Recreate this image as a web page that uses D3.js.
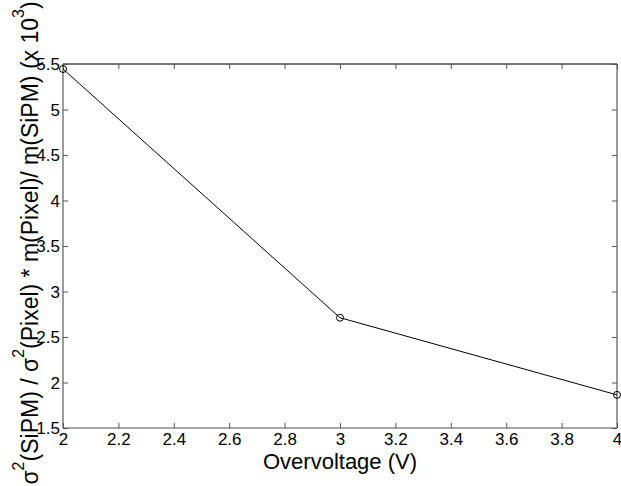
<!DOCTYPE html>
<html>
<head>
<meta charset="utf-8">
<script src="https://cdn.jsdelivr.net/npm/d3@7"></script>
<style>
html,body{margin:0;padding:0;background:#fff;}
svg{display:block;}
text{font-family:"Liberation Sans",Arial,sans-serif;fill:#000;}
</style>
</head>
<body>
<svg id="chart" width="621" height="486"></svg>
<script>
const overvoltage = [2, 3, 4];
const ratioValues = [5.445, 2.712, 1.864];
const xTicks = [2, 2.2, 2.4, 2.6, 2.8, 3, 3.2, 3.4, 3.6, 3.8, 4];
const yTicks = [1.5, 2, 2.5, 3, 3.5, 4, 4.5, 5, 5.5];
const xLabel = "Overvoltage (V)";

const svg = d3.select("#chart");
const L = 63, R = 617, T = 64, B = 428;
const x = d3.scaleLinear().domain([2, 4]).range([L, R]);
const y = d3.scaleLinear().domain([1.5, 5.5]).range([B, T]);
const axisColor = "#555";
const tickLen = 5;

// Box edges
const edge = (x1, y1, x2, y2, c) => svg.append("line")
  .attr("x1", x1).attr("y1", y1).attr("x2", x2).attr("y2", y2)
  .attr("stroke", c).attr("stroke-width", 1.3);
edge(L, T, R, T, "#444");
edge(R, T, R, B, "#666");
edge(L, T, L, B, "#666");
edge(L, B, R, B, "#888");

// Bottom axis
const gx = svg.append("g").attr("transform", `translate(0,${B})`)
  .call(d3.axisBottom(x).tickValues(xTicks).tickSize(-tickLen).tickPadding(5).tickFormat(d3.format("~g")));
// Top axis ticks
const gxt = svg.append("g").attr("transform", `translate(0,${T})`)
  .call(d3.axisTop(x).tickValues(xTicks).tickSize(-tickLen).tickFormat(""));
// Left axis
const gy = svg.append("g").attr("transform", `translate(${L},0)`)
  .call(d3.axisLeft(y).tickValues(yTicks).tickSize(-tickLen).tickPadding(3).tickFormat(d3.format("~g")));
// Right axis ticks
const gyr = svg.append("g").attr("transform", `translate(${R},0)`)
  .call(d3.axisRight(y).tickValues(yTicks).tickSize(-tickLen).tickFormat(""));

[gx, gxt, gy, gyr].forEach(g => {
  g.select(".domain").remove();
  g.selectAll(".tick line").attr("stroke", axisColor).attr("stroke-width", 1);
  g.selectAll("text").attr("font-size", 17).attr("fill", "#111")
    .style("font-family", '"Liberation Sans", Arial, sans-serif');
});
gy.selectAll("text").attr("dy", "0.35em");

// Line
const pts = overvoltage.map((v, i) => [v, ratioValues[i]]);
svg.append("path").datum(pts)
  .attr("fill", "none").attr("stroke", "#000").attr("stroke-width", 1)
  .attr("d", d3.line().x(d => x(d[0])).y(d => y(d[1])));
svg.selectAll("circle.pt").data(pts).enter().append("circle")
  .attr("class", "pt")
  .attr("cx", d => x(d[0])).attr("cy", d => y(d[1])).attr("r", 3.5)
  .attr("fill", "none").attr("stroke", "#000").attr("stroke-width", 1);

// X label
svg.append("text").attr("x", (L + R) / 2).attr("y", 469).attr("text-anchor", "middle")
  .attr("font-size", 22).text(xLabel);

// Y label
const yl = svg.append("text")
  .attr("transform", `translate(38,243) rotate(-90)`)
  .attr("text-anchor", "middle").attr("font-size", 23);
const parts = [
  ["σ", 0], ["2", 1], ["(SiPM) / σ", 0], ["2", 1],
  ["(Pixel) * m(Pixel)/ m(SiPM) (x 10", 0], ["3", 1], [")", 0]
];
parts.forEach(([t, sup], i) => {
  const ts = yl.append("tspan").text(t);
  if (sup) ts.attr("font-size", 16).attr("dy", -14);
  else if (i > 0 && parts[i - 1][1]) ts.attr("dy", 14);
});
</script>
</body>
</html>
